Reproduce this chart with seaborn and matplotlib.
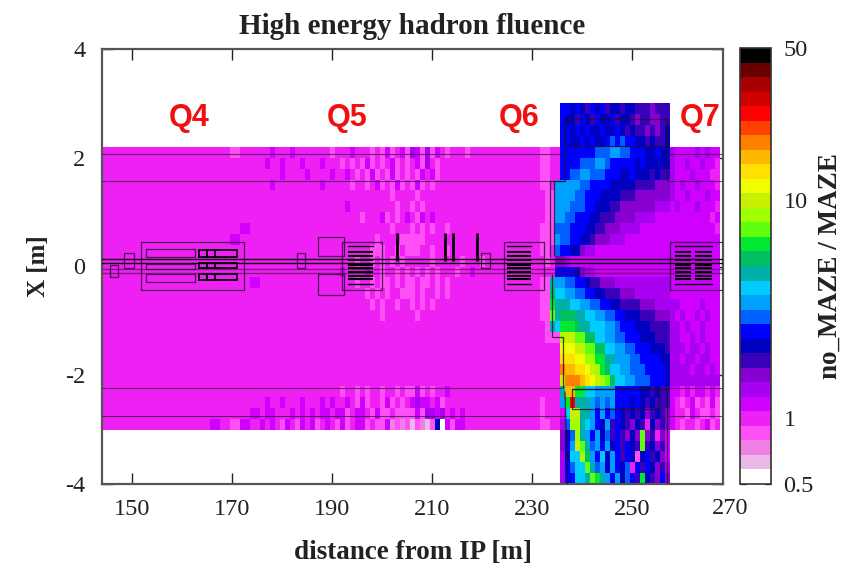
import numpy as np
import matplotlib
matplotlib.use("Agg")
import matplotlib.pyplot as plt
from matplotlib.colors import ListedColormap, LogNorm
from matplotlib.transforms import Affine2D
import seaborn as sns

sns.set_style("white")
plt.rcParams['font.family'] = ['Liberation Serif', 'DejaVu Serif']

BAND_COLORS = ["#ffffff", "#ebb8e8", "#f080e8", "#ff50f8", "#ee20f4", "#d000ff", "#a800f0", "#8800d0",
               "#3800b8", "#0000c0", "#0000ff", "#0060ff", "#00a0ff", "#00ccff", "#00b0a8", "#00c060",
               "#00e830", "#60ff10", "#a0ff00", "#c8f000", "#f0ff00", "#ffe000", "#ffb800", "#ff8000",
               "#ff4000", "#ff0000", "#d00000", "#a80000", "#680000", "#000000"]
BAND_RATIOS = [0.54, 0.63, 0.73, 0.86, 1.0, 1.16, 1.36, 1.58, 1.85, 2.15, 2.51, 2.93, 3.41, 3.98, 4.64,
               5.41, 6.31, 7.36, 8.58, 10.0, 11.7, 13.6, 15.8, 18.5, 21.5, 25.1, 29.3, 34.1, 39.8, 46.4]

# Left field: 2 m columns from 143.5 m, 0.2 m rows from X = 2.2 m down
LEFT_BANDS = [
 "4444444444 444344", "4444444444 444444", "4444444444 444444", "4444444444 444444",
 "4444444444 444444", "4444444444 444444", "4444444444 444444", "4444444444 444454",
 "4444444444 444544", "4444444444 444444", "4444444444 444444", "4444444444 444444",
 "4444444444 444445", "4444444444 444444", "4444444444 444444", "4444444444 444444",
 "4444444444 444444", "4444444444 444444", "4444444444 444444", "4444444444 444444",
 "4444444444 444444", "4444444444 444444", "4444444444 444444", "4444444444 444444",
 "4444444444 444445", "4444444444 454354",
]

# Middle field: 1 m columns from 175.5 m, 0.2 m rows from X = 2.2 m down
MID_BANDS = [
 "4454445444 4444344454 4434353453 6536354344 4344444444 44444433",
 "4544544454 4454443434 3534345343 4536434444 4444444444 44444433",
 "4444544445 4444544543 4353435343 4354534444 4444444444 44444433",
 "4454444444 4454444434 4345343534 3534344444 4444444444 44444433",
 "4444444444 4444444444 4444443444 4344444444 4444444444 44444443",
 "4444444444 4444444544 4444444344 3434444444 4444444444 44444443",
 "4444444444 4444444444 3444534345 4354544444 4444444444 44444443",
 "4444444444 4444444444 4444443444 3434344344 4444444444 44444433",
 "4444444444 4444444444 4443444433 3334444444 4444444444 44444433",
 "4444444444 4444444444 4433344343 3344344344 4444444444 44444433",
 "4444444444 4444444443 4434343434 4444344444 3444344444 44444443",
 "4444444444 4444445444 4544344343 4343434443 4454444444 44444444",
 "4444444444 4444444443 4434334343 3433434344 4444444444 44444433",
 "4444444444 4444444444 4343434433 3434434344 4444444444 44444433",
 "4444444444 4444444444 4434344344 3434344444 4444444444 44444433",
 "4444444444 4444444444 4444344444 4344444444 4444444444 44444433",
 "4444444444 4444444444 4444444444 4444444444 4444444444 44444443",
 "4444444444 4444444444 4444444444 4444444444 4444444444 44444443",
 "4444444444 4444444444 4444444444 4444444444 4444444444 44444444",
 "4444444444 4444444444 4444444444 4444444444 4444444444 44444444",
 "4444444444 4444444444 4444444444 4444444444 4444444444 44444444",
 "4444444444 4444444444 4444444444 4444444444 4444444444 44444444",
 "4444444444 4444443443 4344344343 3534344544 4444444444 44444444",
 "4544544454 4454544543 5344353434 5655453444 4444444444 44444434",
 "4554445454 5455455345 5435334333 3536656454 5444444444 44444434",
 "5454354354 5345435345 5343352323 1321390535 5444444444 44444433",
]

# Hot zone: 1 m columns from 233.5 m, 0.2 m rows from X = 3.0 m down; -1 = no data
HOT_BANDS = [
 [-1,-1,10,10,9,10,9,8,10,9,10,8,9,9,8,9,9,8,8,8,7,8,8,8,-1,-1,-1,-1,-1,-1,-1,-1,-1,-1],
 [-1,-1,10,9,9,8,10,9,8,10,9,9,10,8,9,9,8,7,8,8,7,7,8,8,-1,-1,-1,-1,-1,-1,-1,-1,-1,-1],
 [-1,-1,10,10,9,10,9,10,9,9,10,9,9,10,9,8,9,8,8,7,8,7,8,9,-1,-1,-1,-1,-1,-1,-1,-1,-1,-1],
 [-1,-1,10,10,9,9,10,9,10,9,9,10,11,10,11,10,10,9,9,8,9,8,8,9,-1,-1,-1,-1,-1,-1,-1,-1,-1,-1],
 [4,4,10,10,10,10,10,10,10,11,11,11,12,12,11,11,10,10,10,9,9,10,9,9,6,5,5,5,5,6,5,6,5,5],
 [4,4,10,10,10,10,11,11,11,12,12,11,10,10,10,10,10,9,10,9,9,9,9,9,6,5,5,6,5,5,6,5,5,4],
 [4,4,10,10,11,11,12,12,11,11,11,10,10,10,9,9,10,9,9,9,8,9,8,8,6,5,5,5,6,5,5,5,4,4],
 [4,12,12,12,12,12,11,11,10,10,10,10,9,9,9,9,9,8,8,8,8,7,7,7,6,5,6,5,5,6,5,5,5,4],
 [3,12,12,12,12,11,11,10,10,10,9,9,9,9,8,8,8,7,7,7,7,7,7,7,6,5,5,6,5,5,5,6,5,5],
 [3,12,12,12,11,11,11,10,10,9,9,9,8,8,7,7,7,7,7,7,7,6,6,6,5,6,5,5,5,6,5,5,5,4],
 [3,12,12,11,11,10,10,10,9,9,8,8,8,7,7,7,7,6,6,6,6,5,5,5,5,5,5,5,5,5,5,5,4,5],
 [3,11,11,11,10,10,10,9,9,8,8,7,7,7,6,6,6,6,5,5,5,5,5,5,5,5,5,5,5,5,5,5,5,4],
 [3,12,11,11,10,10,9,9,8,7,7,7,6,6,6,5,5,5,5,5,5,5,5,5,5,5,5,5,5,5,5,5,5,5],
 [4,11,10,10,9,9,7,6,6,5,5,5,5,5,5,5,5,5,5,5,5,5,5,5,5,5,5,5,5,5,5,5,5,5],
 [4,7,7,6,5,5,5,5,5,5,5,5,5,5,5,5,5,5,5,5,5,5,5,5,5,5,5,5,5,5,5,5,5,5],
 [4,10,10,10,10,9,7,6,6,5,5,5,5,5,5,5,5,5,5,5,5,5,5,5,5,5,5,5,5,5,5,5,5,5],
 [14,12,12,11,11,10,10,9,8,8,7,7,7,6,6,6,6,6,6,6,6,6,6,6,5,5,5,5,5,5,5,5,5,5],
 [15,13,13,12,12,11,11,10,10,9,9,8,8,8,7,7,7,6,6,6,6,6,6,6,5,5,5,5,5,5,5,5,5,5],
 [16,14,14,14,13,13,12,12,11,11,10,10,9,9,8,8,8,8,7,7,7,6,6,6,6,6,5,5,5,5,6,5,5,5],
 [17,14,15,15,15,14,14,13,13,12,12,11,11,10,10,9,9,9,8,8,8,7,7,7,6,5,6,5,5,6,5,6,5,5],
 [14,13,16,16,16,15,14,14,13,13,13,12,12,11,10,10,10,9,9,9,8,8,8,8,6,6,5,6,5,5,6,5,5,5],
 [3,3,18,19,19,17,17,15,15,13,13,12,12,11,11,10,10,10,9,9,9,8,8,8,6,6,5,5,6,5,6,5,5,5],
 [4,4,20,20,20,19,19,17,17,15,15,13,13,12,12,11,11,10,10,10,9,9,9,8,6,6,6,5,6,6,5,6,5,5],
 [4,4,21,21,21,20,20,18,18,16,16,14,14,12,12,12,11,11,10,10,10,10,9,9,6,6,5,6,6,5,6,6,5,5],
 [4,4,23,22,22,21,21,20,19,18,16,15,13,13,12,12,11,11,11,10,10,10,10,9,6,6,6,6,5,6,6,5,6,5],
 [4,4,19,23,23,23,22,21,20,19,18,17,15,13,13,12,12,11,11,11,10,10,10,9,6,6,6,6,6,6,6,6,6,6],
 [4,4,14,22,22,16,16,13,13,12,12,12,12,10,10,10,10,10,9,9,8,9,8,8,5,5,4,5,4,5,5,4,5,4],
 [4,4,12,16,25,14,14,14,12,11,12,11,12,10,10,10,9,10,9,8,9,8,8,8,5,4,3,4,5,3,4,3,5,3],
 [4,4,5,13,19,19,14,14,12,10,12,10,11,10,9,8,9,8,9,7,8,9,8,7,5,4,4,3,5,4,3,3,4,3],
 [4,4,6,11,18,18,14,13,12,10,9,12,8,10,9,8,7,9,8,4,9,7,8,7,5,4,3,4,4,3,4,5,3,4],
 [-1,-1,7,9,11,18,14,12,10,12,9,11,8,10,8,7,9,7,17,7,8,4,7,5,-1,-1,-1,-1,-1,-1,-1,-1,-1,-1],
 [-1,-1,7,10,12,19,17,14,11,12,10,12,9,10,8,10,9,8,17,8,9,7,8,5,-1,-1,-1,-1,-1,-1,-1,-1,-1,-1],
 [-1,-1,6,9,13,13,18,15,12,10,13,9,12,10,8,10,9,3,9,10,8,9,7,5,-1,-1,-1,-1,-1,-1,-1,-1,-1,-1],
 [-1,-1,6,10,11,13,13,17,14,11,12,9,12,10,9,11,4,10,8,10,9,7,8,6,-1,-1,-1,-1,-1,-1,-1,-1,-1,-1],
 [-1,-1,6,10,10,13,13,14,17,16,14,12,10,12,9,11,10,8,16,9,8,7,10,7,-1,-1,-1,-1,-1,-1,-1,-1,-1,-1],
]

REGION_LABELS = ["Q4", "Q5", "Q6", "Q7"]
REGION_LABEL_X = [161.4, 193.0, 227.4, 263.6]
X_TICKS = [150, 170, 190, 210, 230, 250]
Y_TICKS = [-4, -2, 0, 2, 4]
CBAR_MAJOR = [0.5, 1, 10, 50]
CBAR_MINOR = [0.6, 0.7, 0.8, 0.9, 2, 3, 4, 5, 6, 7, 8, 9, 20, 30, 40]

# Machine outline, metres: (x1, y1, x2, y2)
LONG_LINES = [
 (144, 2.07, 236.6, 2.07), (257, 2.07, 268, 2.07), (144, 1.57, 236.6, 1.57), (257, 1.57, 268, 1.57),
 (144, -2.23, 236, -2.23), (257, -2.23, 268, -2.23), (144, -2.75, 236.8, -2.75), (257, -2.75, 268, -2.75),
]
PIPE_LINES = [(144, 0.14, 268, 0.14), (144, 0.07, 268, 0.07)]
PIPE_SOFT = [(144, -0.05, 268, -0.05), (144, -0.12, 268, -0.12)]
BOXES = [  # x0, y0, x1, y1
 (151.7, -0.44, 172.3, 0.45), (152.7, 0.18, 162.5, 0.33), (152.7, -0.29, 162.5, -0.13), (152.7, -0.05, 162.5, 0.05),
 (187.2, 0.19, 192.3, 0.54), (187.2, -0.52, 192.3, -0.13),
 (191.9, -0.44, 199.9, 0.45), (224.3, -0.44, 232.4, 0.45), (257.6, -0.44, 268.2, 0.45),
 (148.4, -0.03, 150.3, 0.24), (182.9, -0.03, 184.6, 0.24), (219.8, -0.03, 221.6, 0.24), (145.6, -0.2, 147.2, 0.02),
 (238.0, -2.62, 255.4, -2.25), (236.6, 2.22, 257.0, 2.72),
]
HEAVY_BOXES = [  # x0, y0, x1, y1
 (163.4, 0.18, 165.0, 0.3), (165.0, 0.18, 166.5, 0.3), (166.5, 0.18, 171, 0.3),
 (163.4, -0.02, 165.0, 0.07), (165.0, -0.02, 166.5, 0.07), (166.5, -0.02, 171, 0.07),
 (163.4, -0.24, 165.0, -0.13), (165.0, -0.24, 166.5, -0.13), (166.5, -0.24, 171, -0.13),
]
STRIPES = [(193.2, 198.1), (225.0, 229.8), (258.6, 261.8), (262.6, 266.0)]
STRIPE_LEVELS = [0.26, 0.2, 0.12, 0.03, -0.03, -0.1, -0.17, -0.23]
TRIMS = [(193.2, 198.1, 0.37), (193.2, 198.1, -0.33), (225, 229.8, 0.37), (225, 229.8, -0.33),
         (258.6, 266, 0.37), (258.6, 266, -0.33)]
CORRECTORS = [(202.9, 0.62, 0.1), (212.6, 0.62, 0.1), (214.1, 0.62, 0.1), (219.0, 0.62, 0.1)]
HOT_OUTLINE = [
 [(236.6, 2.72), (236.6, 1.57), (233.6, 1.57), (233.6, 0.17)],
 [(257.0, 2.72), (257.0, 1.57)],
 [(234.4, 1.57), (234.4, 0.2)],
 [(234.0, -0.13), (234.0, -1.3), (236.1, -1.3), (236.1, -2.23)],
 [(236.6, -2.3), (237.1, -4)],
 [(257.0, -2.23), (257.0, -4)],
 [(238.0, -2.25), (257.0, -2.25)],
]

cmap = ListedColormap(BAND_COLORS)
norm = LogNorm(vmin=0.5, vmax=50)
ratios = np.array(BAND_RATIOS + [np.nan])


def band_grid(rows):
    return ratios[np.array([[int(c) for c in r.replace(" ", "")] for r in rows])]


left_ratio = band_grid(LEFT_BANDS)
mid_ratio = band_grid(MID_BANDS)
hot_ratio = ratios[np.array(HOT_BANDS)]

fig = plt.figure(figsize=(8.52, 5.66), dpi=100)
W, H = 852, 566
ax = fig.add_axes([102 / W, 1 - 484 / H, (723 - 102) / W, (484 - 49) / H])
cax = fig.add_axes([740 / W, 1 - 484 / H, 31 / W, (484 - 48) / H])

sns.heatmap(left_ratio, ax=ax, cmap=cmap, norm=norm, cbar=True, cbar_ax=cax, xticklabels=False, yticklabels=False,
            transform=Affine2D().scale(2.0, -0.2).translate(143.5, 2.2) + ax.transData)
sns.heatmap(mid_ratio, ax=ax, cmap=cmap, norm=norm, cbar=False, xticklabels=False, yticklabels=False,
            transform=Affine2D().scale(1.0, -0.2).translate(175.5, 2.2) + ax.transData)
sns.heatmap(hot_ratio, ax=ax, cmap=cmap, norm=norm, cbar=False, xticklabels=False, yticklabels=False,
            transform=Affine2D().scale(1.0, -0.2).translate(233.5, 3.0) + ax.transData)

ax.set_xlim(144, 268.2)
ax.set_ylim(-4, 4)
ax.set_xticks(X_TICKS)
ax.set_yticks(Y_TICKS)
ax.set_xticklabels([str(v) for v in X_TICKS])
ax.set_yticklabels([str(v) for v in Y_TICKS])
ax.set_facecolor("white")
for s in ax.spines.values():
    s.set_visible(True)
    s.set_color("#555555")
    s.set_linewidth(1.6)
ax.tick_params(axis='x', which='major', direction='in', length=8, width=1.0, color='#222222',
               labelsize=17.5, labelcolor='#222222', bottom=True, top=True, pad=11)
ax.tick_params(axis='y', which='major', direction='in', length=8, width=1.0, color='#222222',
               labelsize=17.5, labelcolor='#222222', left=True, right=True, pad=12)
ax.text(269.6, -4.26, "270", fontsize=17.5, color='#222222', ha='center', va='top', clip_on=False)

outline = dict(color='#20102a', lw=0.9, alpha=0.8, solid_capstyle='butt', zorder=5)
for x1, y1, x2, y2 in LONG_LINES:
    ax.plot([x1, x2], [y1, y2], **{**outline, 'lw': 0.8, 'alpha': 0.65})
for x1, y1, x2, y2 in PIPE_LINES:
    ax.plot([x1, x2], [y1, y2], color='#100010', lw=1.0, zorder=5)
for x1, y1, x2, y2 in PIPE_SOFT:
    ax.plot([x1, x2], [y1, y2], color='#40103a', lw=1.0, alpha=0.6, zorder=5)
for x0, y0, x1, y1 in BOXES:
    ax.plot([x0, x1, x1, x0, x0], [y0, y0, y1, y1, y0], **outline)
for x0, y0, x1, y1 in HEAVY_BOXES:
    ax.plot([x0, x1, x1, x0, x0], [y0, y0, y1, y1, y0], color='black', lw=1.3, zorder=5)
for x0, x1 in STRIPES:
    for lev in STRIPE_LEVELS:
        ax.plot([x0, x1], [lev, lev], color='black', lw=1.5, zorder=5, solid_capstyle='butt')
for x0, x1, lev in TRIMS:
    ax.plot([x0, x1], [lev, lev], color='black', lw=1.0, zorder=5)
for cx, top, bot in CORRECTORS:
    ax.plot([cx, cx], [bot, top], color='black', lw=2.0, zorder=5, solid_capstyle='butt')
for path in HOT_OUTLINE:
    ax.plot(*zip(*path), **outline)

for lab, lx in zip(REGION_LABELS, REGION_LABEL_X):
    ax.text(lx, 2.74, lab, color='#f01010', fontsize=22, fontweight='bold', family='Liberation Sans',
            ha='center', va='center', zorder=6)

ax.set_title("High energy hadron fluence", fontsize=21, fontweight='bold', color='#222222', x=0.499, pad=11)
ax.set_xlabel("distance from IP [m]", fontsize=19.5, fontweight='bold', color='#222222', labelpad=14)
ax.set_ylabel("X [m]", fontsize=18, fontweight='bold', color='#222222', labelpad=11)

cb = ax.collections[0].colorbar
cb.outline.set_visible(True)
cb.outline.set_linewidth(1.2)
cb.outline.set_edgecolor('#333333')
cax.set_yticks(CBAR_MAJOR)
cax.set_yticklabels([str(v) for v in CBAR_MAJOR])
cax.set_yticks(CBAR_MINOR, minor=True)
cax.set_yticklabels([], minor=True)
cax.tick_params(axis='y', which='both', direction='in', length=4, width=0.9, color='black', left=True, right=True,
                labelsize=17.5, labelcolor='#222222', pad=9)
cax.set_ylabel("no_MAZE / MAZE", fontsize=19.5, fontweight='bold', color='#222222', labelpad=3)

fig.savefig("out.png", dpi=100, facecolor='white')
